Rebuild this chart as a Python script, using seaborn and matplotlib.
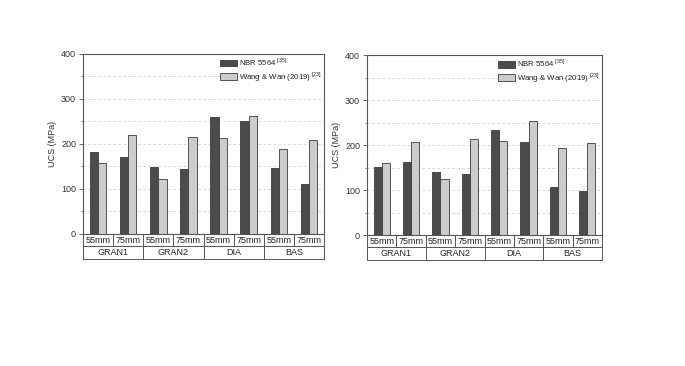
import numpy as np
import pandas as pd
import seaborn as sns
import matplotlib.pyplot as plt
from matplotlib.ticker import MultipleLocator

# data
rocks = ['GRAN1', 'GRAN2', 'DIA', 'BAS']
sizes = ['55mm', '75mm']
methods = ['NBR 5564 $^{[35]}$', 'Wang & Wan (2019) $^{[23]}$']

left_nbr = [183, 170, 148, 145, 260, 251, 146, 110]
left_wang = [158, 221, 123, 215, 213, 263, 189, 208]
right_nbr = [151, 163, 139, 136, 233, 206, 106, 98]
right_wang = [159, 206, 125, 213, 210, 253, 193, 205]

yticks = [0, 100, 200, 300, 400]

sns.set_style('ticks')
plt.rcParams['font.family'] = ['Liberation Sans', 'DejaVu Sans']
plt.rcParams['mathtext.fontset'] = 'custom'
plt.rcParams['mathtext.rm'] = 'Liberation Sans'

cats = [f'{r} {s}' for r in rocks for s in sizes]


def make_df(nbr, wang):
    return pd.DataFrame({
        'cat': cats * 2,
        'method': [methods[0]] * 8 + [methods[1]] * 8,
        'ucs': nbr + wang,
    })


fig = plt.figure(figsize=(6.85, 3.66), dpi=100)
ax1 = fig.add_axes([0.1212, 0.3607, 0.3518, 0.4918])
ax2 = fig.add_axes([0.5358, 0.3579, 0.3430, 0.4918])

palette = {methods[0]: '#4b4b4b', methods[1]: '#cccccc'}
fs = 6.5
edge = '#555555'

for ax, nbr, wang in [(ax1, left_nbr, left_wang), (ax2, right_nbr, right_wang)]:
    df = make_df(nbr, wang)
    sns.barplot(data=df, x='cat', y='ucs', hue='method', order=cats,
                hue_order=methods, palette=palette, width=0.55,
                edgecolor='#3a3a3a', linewidth=0.6, ax=ax)
    ax.set_xlim(-0.5, len(cats) - 0.5)
    ax.set_ylim(0, 400)
    ax.set_yticks(yticks)
    ax.yaxis.set_minor_locator(MultipleLocator(50))
    ax.tick_params(axis='y', which='major', labelsize=fs, length=3,
                   width=0.6, color=edge, labelcolor='#333333', pad=2)
    ax.tick_params(axis='y', which='minor', length=1.5, width=0.5, color=edge)
    ax.set_xticks([])
    ax.set_xlabel('')
    ax.set_ylabel('UCS (MPa)', fontsize=fs, color='#333333', labelpad=3)
    for v in np.arange(50, 400, 50):
        ax.axhline(v, color='#cfcfcf', lw=0.6, ls=(0, (3, 3)), zorder=0)
    for sp in ax.spines.values():
        sp.set_visible(True)
        sp.set_color(edge)
        sp.set_linewidth(0.8)

    # category table under the axis
    trans = ax.get_xaxis_transform()
    h = 0.069
    ax.plot([-0.5, 7.5], [-h, -h], transform=trans, color=edge, lw=0.7, clip_on=False)
    ax.plot([-0.5, 7.5], [-2 * h, -2 * h], transform=trans, color=edge, lw=0.7, clip_on=False)
    for i in range(9):
        x = i - 0.5
        bottom = -2 * h if i % 2 == 0 else -h
        ax.plot([x, x], [0, bottom], transform=trans, color=edge, lw=0.7, clip_on=False)
    for i, c in enumerate(cats):
        ax.text(i, -h / 2, c.split()[1], transform=trans, ha='center',
                va='center', fontsize=fs, color='#222222')
    for j, r in enumerate(rocks):
        ax.text(2 * j + 0.5, -1.5 * h, r, transform=trans, ha='center',
                va='center', fontsize=fs, color='#222222')

    leg = ax.legend(loc='upper right', frameon=False, fontsize=5.6,
                    handlelength=2.1, handleheight=0.95, labelspacing=0.2,
                    handletextpad=0.25, borderaxespad=0.1, borderpad=0.2)
    for t in leg.get_texts():
        t.set_color('#222222')

fig.savefig('out.png', dpi=100)
